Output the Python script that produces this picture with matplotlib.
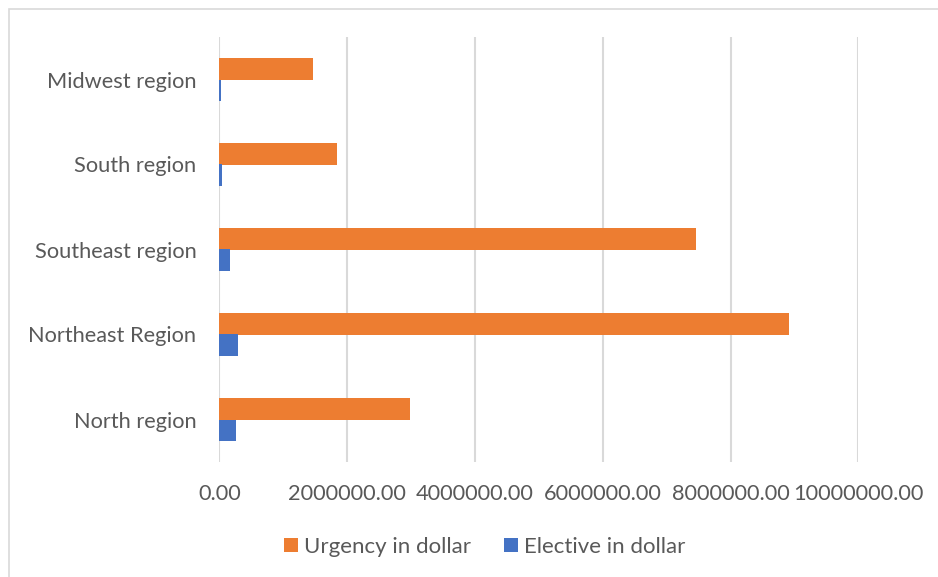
import matplotlib.pyplot as plt
from matplotlib.patches import Rectangle
import numpy as np

# Regions listed bottom to top as they appear on the axis
regions = ['North region', 'Northeast Region', 'Southeast region', 'South region', 'Midwest region']
urgency = [2980000, 8920000, 7460000, 1840000, 1470000]
elective = [255000, 290000, 165000, 50000, 22000]
x_ticks = [0, 2000000, 4000000, 6000000, 8000000, 10000000]

orange = '#ED7D31'
blue = '#4472C4'
text_grey = '#595959'
grid_grey = '#D9D9D9'

plt.rcParams['font.family'] = ['Lato', 'DejaVu Sans']

fig = plt.figure(figsize=(9.38, 5.77), dpi=100)
ax = fig.add_axes([219.3 / 938, 1 - 462 / 577, (858.3 - 219.3) / 938, (462 - 37) / 577])

pos = np.arange(len(regions))
h = 0.255
b_urg = ax.barh(pos + h / 2, urgency, height=h, color=orange, label='Urgency in dollar')
b_ele = ax.barh(pos - h / 2, elective, height=h, color=blue, label='Elective in dollar')

ax.set_xlim(0, 10000000)
ax.set_ylim(-0.5, len(regions) - 0.5)
ax.set_xticks(x_ticks)
ax.set_xticklabels([f'{v:.2f}' for v in x_ticks])
ax.set_yticks(pos)
ax.set_yticklabels(regions)

ax.grid(axis='x', color=grid_grey, linewidth=1.5)
ax.set_axisbelow(True)
for s in ax.spines.values():
    s.set_visible(False)
ax.tick_params(axis='both', length=0, labelsize=15.7, colors=text_grey)
ax.tick_params(axis='x', pad=16)
ax.tick_params(axis='y', pad=16.5)

fig.legend(handles=[b_urg, b_ele], loc='center', bbox_to_anchor=(484.5 / 938, 1 - 547 / 577),
           ncol=2, frameon=False, fontsize=16, labelcolor=text_grey,
           handlelength=0.63, handleheight=0.63, handletextpad=0.27, columnspacing=1.5)

# chart area outline (open on the right and bottom edges)
fig.patches.append(Rectangle((8.5 / 938, -0.1), 1.2, 1.1 - 8.5 / 577, transform=fig.transFigure,
                             fill=False, edgecolor=grid_grey, linewidth=1.2))

fig.savefig('out.png', dpi=100)
